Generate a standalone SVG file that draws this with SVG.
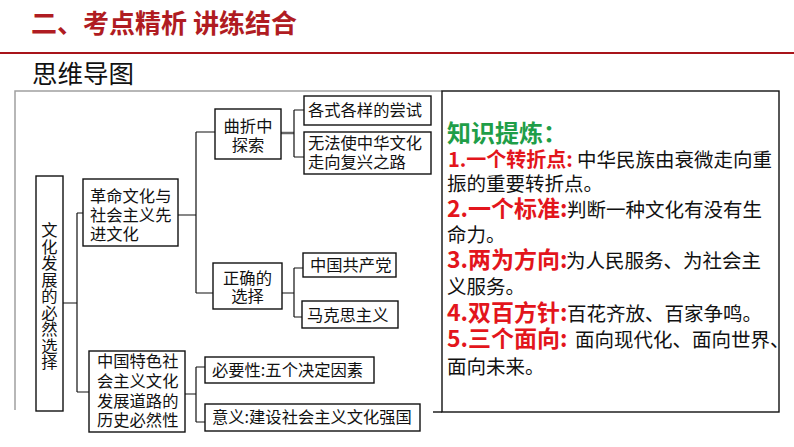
<svg xmlns="http://www.w3.org/2000/svg" width="794" height="447" viewBox="0 0 794 447">
<style>
text{font-family:"Noto Sans CJK SC","Noto Sans CJK TC",sans-serif;}
.box{fill:#fff;stroke:#111;stroke-width:1.4;}
.nt{font-size:16.3px;fill:#111;}
.ln{fill:none;stroke:#111;stroke-width:1.2;}
.red{fill:#e3151c;font-weight:bold;}
.blk{fill:#111;font-size:19.5px;}
</style>
<rect x="0" y="0" width="794" height="447" fill="#fff"/>
<text x="31" y="33" font-size="26" font-weight="bold" fill="#b01c22">二、考点精析 讲练结合</text>
<line x1="0" y1="53" x2="794" y2="53" stroke="#a8141a" stroke-width="2"/>
<text x="32" y="83" font-size="25.5" fill="#111">思维导图</text>
<g id="frame" fill="none">
<path d="M442,91 H15 V410" stroke="#a0a0a0" stroke-width="1.5"/>
<line x1="433" y1="412" x2="442" y2="412" stroke="#111" stroke-width="1.4"/>
</g>
<g id="connectors">
<path class="ln" d="M63,303 H77 M77,213 V392 M77,213 H83 M77,392 H89"/>
<path class="ln" d="M178,215 H196 M196,132 V293 M196,132 H215 M196,293 H213"/>
<path d="M281,133 H294" stroke="#666" stroke-width="2.5" fill="none"/>
<path class="ln" d="M294,110 V157 M294,110 H304 M294,157 H304"/>
<path class="ln" d="M282,293 H294 M294,268 V317 M294,268 H303 M294,317 H302"/>
<path class="ln" d="M185,394 H196 M196,367 V422 M196,367 H205 M196,422 H205"/>
</g>
<g id="root">
<rect class="box" x="36" y="176" width="27" height="235"/>
<text class="nt" x="49.5" y="222" font-size="16" letter-spacing="0.2" writing-mode="vertical-rl" style="text-orientation:upright">文化发展的必然选择</text>
</g>
<g id="n-geming">
<rect class="box" x="83" y="179" width="95" height="67"/>
<text class="nt"><tspan x="90" y="202">革命文化与</tspan><tspan x="90" y="221">社会主义先</tspan><tspan x="90" y="240">进文化</tspan></text>
</g>
<g id="n-tese">
<rect class="box" x="89" y="351" width="96" height="81"/>
<text class="nt"><tspan x="97" y="367">中国特色社</tspan><tspan x="97" y="387">会主义文化</tspan><tspan x="97" y="407">发展道路的</tspan><tspan x="97" y="426">历史必然性</tspan></text>
</g>
<g id="n-quzhe">
<rect class="box" x="215" y="109" width="66" height="50"/>
<text class="nt" text-anchor="middle"><tspan x="248" y="132">曲折中</tspan><tspan x="248" y="151">探索</tspan></text>
</g>
<g id="n-zhengque">
<rect class="box" x="213" y="263" width="69" height="46"/>
<text class="nt" text-anchor="middle"><tspan x="247.5" y="284">正确的</tspan><tspan x="247.5" y="302">选择</tspan></text>
</g>
<g id="n-changshi">
<rect class="box" x="304" y="96" width="127" height="29"/>
<text class="nt" x="308" y="116">各式各样的尝试</text>
</g>
<g id="n-wufa">
<rect class="box" x="304" y="132" width="127" height="42"/>
<text class="nt"><tspan x="308" y="149">无法使中华文化</tspan><tspan x="308" y="168">走向复兴之路</tspan></text>
</g>
<g id="n-gcd">
<rect class="box" x="303" y="253" width="93" height="24"/>
<text class="nt" x="310" y="271" font-size="16">中国共产党</text>
</g>
<g id="n-mks">
<rect class="box" x="302" y="301" width="96" height="27"/>
<text class="nt" x="307" y="320.5" font-size="16">马克思主义</text>
</g>
<g id="n-biyao">
<rect class="box" x="205" y="357" width="169" height="26"/>
<text class="nt" x="212" y="376" font-size="16">必要性:五个决定因素</text>
</g>
<g id="n-yiyi">
<rect class="box" x="205" y="404" width="215" height="27"/>
<text class="nt" x="212" y="423" font-size="16">意义:建设社会主义文化强国</text>
</g>
<g id="knowledge">
<rect x="442" y="91" width="337" height="321" fill="none" stroke="#111" stroke-width="1.4"/>
<text x="447" y="142" font-size="24" font-weight="bold" fill="#1f9e48">知识提炼：</text>
<text y="167"><tspan class="red" x="448" font-size="20">1.一个转折点:</tspan><tspan class="blk" x="577">中华民族由衰微走向重</tspan></text>
<text class="blk" x="447" y="191">振的重要转折点。</text>
<text y="217"><tspan class="red" x="447" font-size="23">2.一个标准:</tspan><tspan class="blk" x="567">判断一种文化有没有生</tspan></text>
<text class="blk" x="447" y="242">命力。</text>
<text y="268"><tspan class="red" x="447" font-size="23">3.两为方向:</tspan><tspan class="blk" x="566">为人民服务、为社会主</tspan></text>
<text class="blk" x="447" y="294">义服务。</text>
<text y="321"><tspan class="red" x="447" font-size="23">4.双百方针:</tspan><tspan class="blk" x="567">百花齐放、百家争鸣。</tspan></text>
<text y="347"><tspan class="red" x="447" font-size="23">5.三个面向:</tspan><tspan class="blk" x="575">面向现代化、面向世界、</tspan></text>
<text class="blk" x="447" y="374">面向未来。</text>
</g>
</svg>
